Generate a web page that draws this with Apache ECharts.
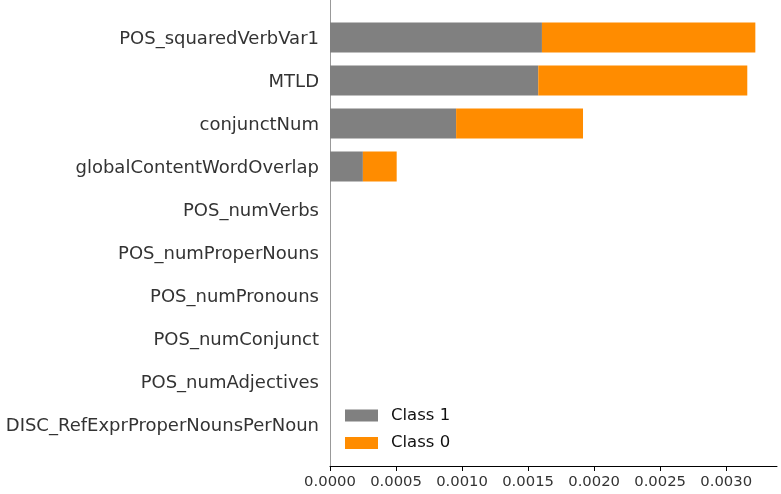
<!DOCTYPE html>
<html>
<head>
<meta charset="utf-8">
<script src="https://cdn.jsdelivr.net/npm/echarts@6/dist/echarts.min.js"></script>
<style>html,body{margin:0;padding:0;background:#fff}#c{width:781px;height:494px}</style>
</head>
<body>
<div id="c"></div>
<script>
// top to bottom
var categories = ["POS_squaredVerbVar1","MTLD","conjunctNum","globalContentWordOverlap","POS_numVerbs","POS_numProperNouns","POS_numPronouns","POS_numConjunct","POS_numAdjectives","DISC_RefExprProperNounsPerNoun"];
var class1 = [0.001605, 0.001577, 0.000955, 0.000249, 0, 0, 0, 0, 0, 0];
var class0 = [0.001616, 0.001583, 0.000961, 0.000256, 0, 0, 0, 0, 0, 0];
var xTicks = [0, 0.0005, 0.0010, 0.0015, 0.0020, 0.0025, 0.0030];
var xMax = 0.003385;

var chart = echarts.init(document.getElementById('c'), null, {renderer:'canvas'});
var font = 'DejaVu Sans';
chart.setOption({
  animation: false,
  backgroundColor: '#fff',
  textStyle: {fontFamily: font},
  legend: {
    data: ['Class 1', 'Class 0'],
    orient: 'vertical',
    left: 345, top: 407, padding: 0,
    itemWidth: 33, itemHeight: 12, itemGap: 10.5,
    icon: 'rect',
    textStyle: {fontFamily: font, fontSize: 16.5, color: '#111', lineHeight: 16, padding: [0,0,0,8]}
  },
  grid: [
    {left: 330, right: 4, top: 16, height: 430},
    {left: 330, right: 4, top: 0, bottom: 28}
  ],
  xAxis: [
    {gridIndex: 0, type: 'value', min: 0, max: xMax, show: false},
    {gridIndex: 1, type: 'value', min: 0, max: xMax, interval: 0.0005,
     axisLine: {show: true, lineStyle: {color: '#000', width: 1}},
     axisTick: {show: true, length: 5, lineStyle: {color: '#000'}},
     splitLine: {show: false},
     axisLabel: {fontFamily: font, fontSize: 14.8, color: '#333', margin: 9,
       showMaxLabel: false,
       formatter: function(v){ return xTicks.some(function(t){return Math.abs(t-v)<1e-9;}) ? v.toFixed(4) : ''; }}}
  ],
  yAxis: [
    {gridIndex: 0, type: 'category', data: categories, inverse: true,
     axisLine: {show: false}, axisTick: {show: false},
     axisLabel: {margin: 11,
       formatter: function(v){ return '{a|' + v + '}'; },
       rich: {a: {fontFamily: font, fontSize: 18, color: '#333', padding: [4,0,0,0]}}}},
    {gridIndex: 1, type: 'value', min: 0, max: 1,
     axisLine: {show: true, lineStyle: {color: '#999', width: 1}},
     axisTick: {show: false}, axisLabel: {show: false}, splitLine: {show: false}}
  ],
  series: [
    {name: 'Class 1', type: 'bar', stack: 's', xAxisIndex: 0, yAxisIndex: 0, data: class1, barWidth: 30,
     itemStyle: {color: '#808080'}},
    {name: 'Class 0', type: 'bar', stack: 's', xAxisIndex: 0, yAxisIndex: 0, data: class0, barWidth: 30,
     itemStyle: {color: '#FF8C00'}}
  ]
});
</script>
</body>
</html>
